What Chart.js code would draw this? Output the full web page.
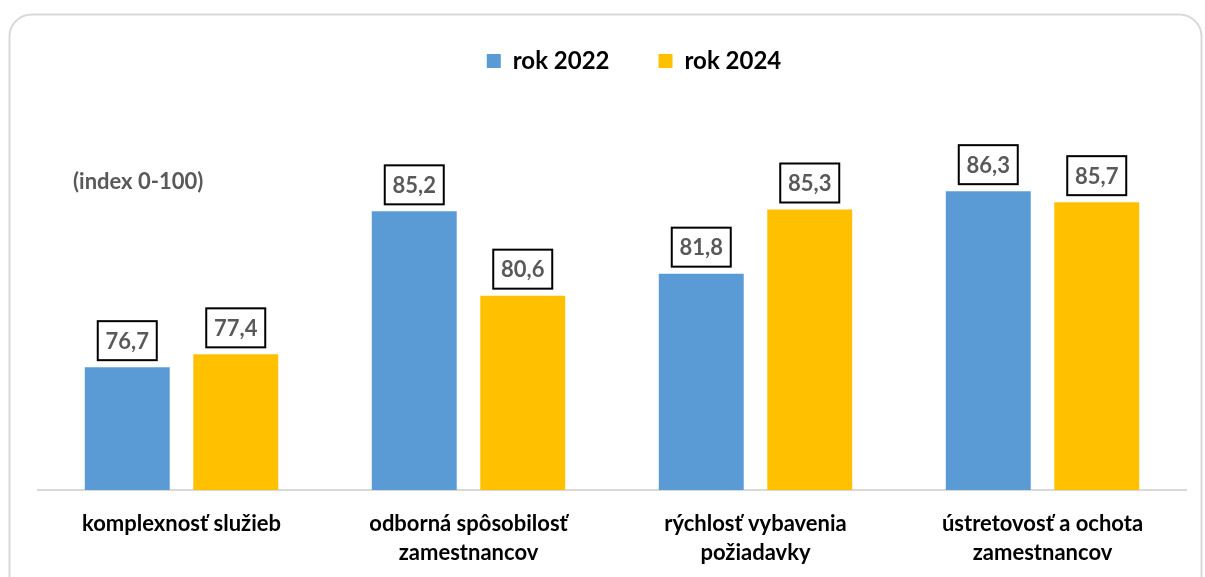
<!DOCTYPE html>
<html>
<head>
<meta charset="utf-8">
<script src="https://cdn.jsdelivr.net/npm/chart.js@4.4.0/dist/chart.umd.min.js"></script>
<style>
    body { margin: 0; background: #fff; }
    #chart { display: block; }
</style>
</head>
<body>
<canvas id="chart" width="1205" height="577"></canvas>
<script>
const categories = [
    ['komplexnosť služieb'],
    ['odborná spôsobilosť', 'zamestnancov'],
    ['rýchlosť vybavenia', 'požiadavky'],
    ['ústretovosť a ochota', 'zamestnancov']
];
const values2022 = [76.7, 85.2, 81.8, 86.3];
const values2024 = [77.4, 80.6, 85.3, 85.7];
const seriesNames = ['rok 2022', 'rok 2024'];
const indexNote = '(index 0-100)';

const FONT = 'Lato, Calibri, sans-serif';

// rounded frame behind the chart
const framePlugin = {
    id: 'frame',
    beforeDraw(chart) {
        const ctx = chart.ctx;
        ctx.save();
        ctx.strokeStyle = '#d9d9d9';
        ctx.lineWidth = 2;
        ctx.beginPath();
        ctx.roundRect(9.5, 14.5, 1192, 620, 22);
        ctx.stroke();
        ctx.restore();
    },
    afterLayout(chart) {
        // legend sits a bit right of the plot centre in the original
        chart.legend.left += 44;
    }
};

// boxed value labels + index note
const labelPlugin = {
    id: 'boxLabels',
    afterDatasetsDraw(chart) {
        const ctx = chart.ctx;
        ctx.save();
        ctx.font = 'bold 22px ' + FONT;
        ctx.textAlign = 'center';
        ctx.textBaseline = 'middle';
        chart.data.datasets.forEach((ds, i) => {
            chart.getDatasetMeta(i).data.forEach((bar, j) => {
                const txt = ds.data[j].toFixed(1).replace('.', ',');
                const w = 59, h = 39;
                const bottom = bar.y - 7;
                ctx.fillStyle = '#fff';
                ctx.fillRect(bar.x - w / 2, bottom - h, w, h);
                ctx.strokeStyle = '#000';
                ctx.lineWidth = 2;
                ctx.strokeRect(bar.x - w / 2, bottom - h, w, h);
                ctx.fillStyle = '#595959';
                ctx.fillText(txt, bar.x, bottom - h / 2 + 1);
            });
        });
        ctx.font = 'bold 22px ' + FONT;
        ctx.textAlign = 'left';
        ctx.fillStyle = '#595959';
        ctx.fillText(indexNote, 73, 182);
        ctx.restore();
    }
};

new Chart(document.getElementById('chart'), {
    type: 'bar',
    data: {
        labels: categories,
        datasets: [{
            label: seriesNames[0],
            data: values2022,
            backgroundColor: '#5b9bd5'
        }, {
            label: seriesNames[1],
            data: values2024,
            backgroundColor: '#ffc000'
        }]
    },
    options: {
        responsive: false,
        animation: false,
        devicePixelRatio: 1,
        categoryPercentage: 0.756,
        barPercentage: 0.783,
        layout: { padding: { left: 38, right: 19, top: 0, bottom: 10 } },
        plugins: {
            legend: {
                position: 'top',
                labels: {
                    boxWidth: 14,
                    boxHeight: 14,
                    padding: 49,
                    color: '#000',
                    font: { family: FONT, size: 24, weight: 'bold' }
                }
            },
            tooltip: { enabled: false }
        },
        scales: {
            y: {
                display: false,
                min: 70,
                max: 92.2
            },
            x: {
                grid: { display: true, drawOnChartArea: false, drawTicks: false },
                border: { display: true, color: '#d9d9d9', width: 2 },
                ticks: {
                    color: '#000',
                    padding: 19,
                    maxRotation: 0,
                    font: { family: FONT, size: 22, weight: 'bold', lineHeight: '29px' }
                },
                afterFit(scale) {
                    scale.height = 77;
                }
            }
        }
    },
    plugins: [framePlugin, labelPlugin]
});
</script>
</body>
</html>
